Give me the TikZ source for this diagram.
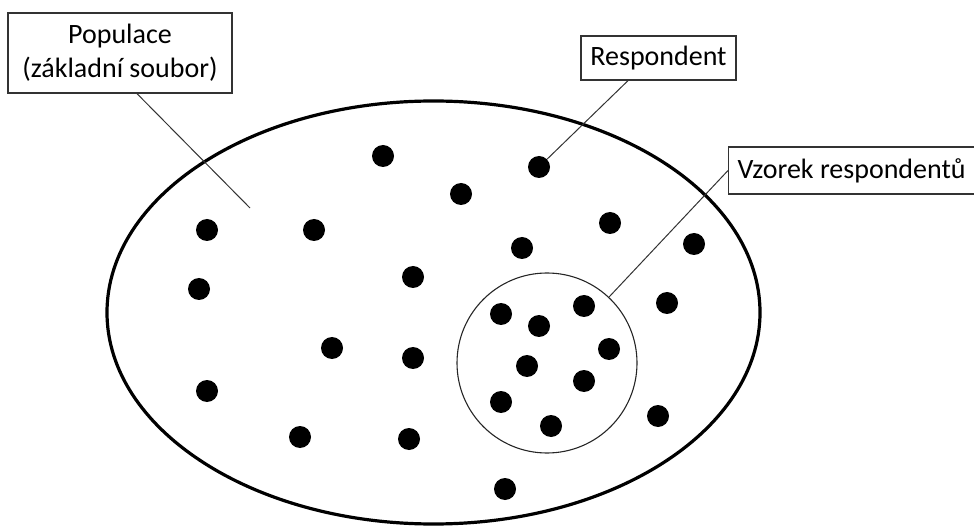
\documentclass[tikz,border=0pt]{standalone}
\usepackage{fontspec}
\setmainfont{Carlito}
\begin{document}
\begin{tikzpicture}[x=1pt,y=-1pt,
  dotmark/.style={circle,fill=black,inner sep=0pt,minimum size=22pt},
  labelbox/.style={draw=black!80,line width=1.3pt,fill=white,inner sep=0pt,
    font=\fontsize{28}{34}\selectfont,align=center},
  leader/.style={draw=black!80,line width=1pt}]
\useasboundingbox (0,0) rectangle (974,526);
% population ellipse
\draw[line width=3.2pt] (433.5,312.5) ellipse [x radius=326.5, y radius=211.5];
% sample circle
\node[draw=black!85,line width=1.1pt,circle,minimum size=180pt,inner sep=0pt] (circ) at (547,363) {};
% dots outside sample
\node[dotmark] (d1) at (383,156) {};
\node[dotmark] (d2) at (539,167) {};
\node[dotmark] (d3) at (461,194) {};
\node[dotmark] (d4) at (207,230) {};
\node[dotmark] (d5) at (314,230) {};
\node[dotmark] (d6) at (610,223) {};
\node[dotmark] (d7) at (522,248) {};
\node[dotmark] (d8) at (694,244) {};
\node[dotmark] (d9) at (199,289) {};
\node[dotmark] (d10) at (413,277) {};
\node[dotmark] (d11) at (667,303) {};
\node[dotmark] (d12) at (332,348) {};
\node[dotmark] (d13) at (413,358) {};
\node[dotmark] (d14) at (207,391) {};
\node[dotmark] (d15) at (300,437) {};
\node[dotmark] (d16) at (409,439) {};
\node[dotmark] (d17) at (658,416) {};
\node[dotmark] (d18) at (505,489) {};
% dots inside sample
\node[dotmark] (s1) at (501,314) {};
\node[dotmark] (s2) at (539,326) {};
\node[dotmark] (s3) at (584,306) {};
\node[dotmark] (s4) at (609,349) {};
\node[dotmark] (s5) at (527,366) {};
\node[dotmark] (s6) at (584,381) {};
\node[dotmark] (s7) at (501,402) {};
\node[dotmark] (s8) at (551,426) {};
% label boxes
\node[labelbox,minimum width=224pt,minimum height=80pt] (pop) at (120,53)
  {Populace\\(základní soubor)};
\node[labelbox,minimum width=155pt,minimum height=44pt] (resp) at (658.5,58) {Respondent};
\node[labelbox,anchor=west,minimum height=47pt,align=left,inner xsep=9pt] (vz) at (728,170.5) {Vzorek respondentů\hspace{30pt}};
% leaders
\coordinate (popend) at (250,208);
\draw[leader] ([xshift=17pt]pop.south) -- (popend);
\draw[leader] ([xshift=-30.5pt]resp.south) -- (d2);
\draw[leader] (vz.west) -- (circ);
\end{tikzpicture}
\end{document}
